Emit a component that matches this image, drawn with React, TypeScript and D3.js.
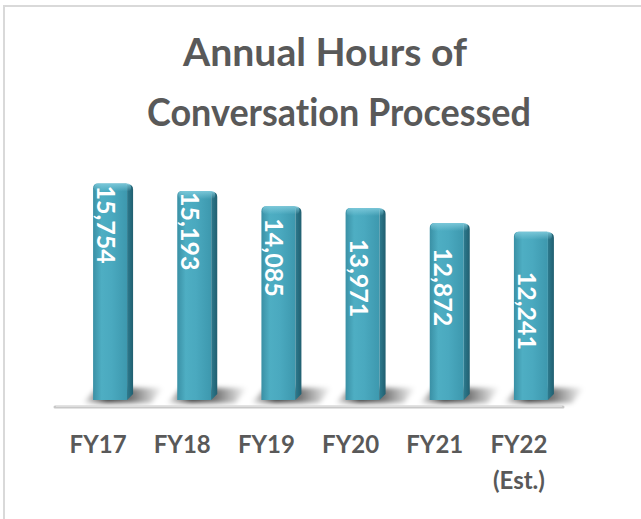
import React from "react";
import * as d3 from "d3";

const categories: string[][] = [["FY17"], ["FY18"], ["FY19"], ["FY20"], ["FY21"], ["FY22", "(Est.)"]];
const hours: number[] = [15754, 15193, 14085, 13971, 12872, 12241];
const titleLines: string[] = ["Annual Hours of", "Conversation Processed"];

const W = 641;
const H = 519;
const FONT = "Lato, 'Open Sans', sans-serif";
const GREY = "#595959";
// label drop below bar top (as drawn by the original chart engine)
const LABEL_DROP = [2, 1, 12, 31, 25, 40];

export default function App() {
  const x = d3.scaleBand<number>().domain(d3.range(categories.length)).range([56, 561]).padding(0);
  const y = d3.scaleLinear().domain([0, 16000]).range([400, 180]);
  const fmt = d3.format(",");
  const frontW = 34;
  const sideW = 6;
  const r = 5;
  const noLig = { fontVariantLigatures: "none" as const, fontFeatureSettings: "'liga' 0, 'clig' 0" };

  return (
    <div style={{ position: "absolute", left: 0, top: 0 }}>
      <svg width={W} height={H} style={{ display: "block", background: "#fff" }}>
        <defs>
          <linearGradient id="front" x1="0" x2="1" y1="0" y2="0">
            <stop offset="0" stopColor="#3a90a5" />
            <stop offset="0.25" stopColor="#4eaec3" />
            <stop offset="0.55" stopColor="#4aa9bf" />
            <stop offset="1" stopColor="#3d98ae" />
          </linearGradient>
          <linearGradient id="side" x1="0" x2="1" y1="0" y2="0">
            <stop offset="0" stopColor="#2f7f93" />
            <stop offset="1" stopColor="#215f70" />
          </linearGradient>
          <linearGradient id="topHi" x1="0" x2="0" y1="0" y2="1">
            <stop offset="0" stopColor="#7fcadb" stopOpacity="0.9" />
            <stop offset="1" stopColor="#7fcadb" stopOpacity="0" />
          </linearGradient>
          <linearGradient id="shadowGrad" x1="0" x2="1" y1="0" y2="0">
            <stop offset="0" stopColor="#000" stopOpacity="0.05" />
            <stop offset="0.3" stopColor="#000" stopOpacity="0.75" />
            <stop offset="0.6" stopColor="#000" stopOpacity="0.55" />
            <stop offset="1" stopColor="#000" stopOpacity="0" />
          </linearGradient>
          <filter id="blur" x="-30%" y="-100%" width="160%" height="300%">
            <feGaussianBlur stdDeviation="2.5" />
          </filter>
        </defs>

        {/* frame */}
        <path d={`M4,${H} L4,6 L${W},6`} fill="none" stroke="#d9d9d9" strokeWidth={2} />

        {/* title */}
        <text x={183} y={66} textLength={284} lengthAdjust="spacingAndGlyphs" fontFamily={FONT} fontWeight={700} fontSize={39} fill={GREY} style={noLig}>
          {titleLines[0]}
        </text>
        <text x={147} y={126} textLength={384} lengthAdjust="spacingAndGlyphs" fontFamily={FONT} fontWeight={700} fontSize={39} fill={GREY} style={noLig}>
          {titleLines[1]}
        </text>

        {/* floor shadows */}
        {hours.map((v, i) => {
          const cx = (x(i) as number) + x.bandwidth() / 2;
          const bl = cx - 5;
          return (
            <polygon
              key={"sh" + i}
              points={`${bl - 10},403 ${bl + 4},388 ${bl + 70},388 ${bl + 58},403`}
              fill="url(#shadowGrad)"
              filter="url(#blur)"
            />
          );
        })}

        {/* floor line */}
        <line x1={55} x2={563} y1={407} y2={407} stroke="#c8c8c8" strokeWidth={3} strokeLinecap="round" />
        <line x1={56} x2={562} y1={406.2} y2={406.2} stroke="#e6e6e6" strokeWidth={1} />

        {/* bars */}
        {hours.map((v, i) => {
          const cx = (x(i) as number) + x.bandwidth() / 2;
          const bl = cx - 5;
          const top = y(v);
          const bottom = y(0);
          const fr = bl + frontW;
          const front = `M${bl},${bottom} L${bl},${top + r} Q${bl},${top} ${bl + r},${top} L${fr - 1},${top} L${fr},${top + 2} L${fr},${bottom} Z`;
          const side = `M${fr},${top + 2} L${fr - 1},${top} L${fr + sideW - r},${top + 1} Q${fr + sideW},${top + 1} ${fr + sideW},${top + r + 1} L${fr + sideW},${bottom - 6} L${fr},${bottom} Z`;
          return (
            <g key={"b" + i}>
              <path d={front} fill="url(#front)" />
              <path d={side} fill="url(#side)" />
              <rect x={bl + 1} y={top} width={frontW + sideW - 3} height={8} rx={4} fill="url(#topHi)" />
              <text
                transform={`translate(${bl + 4},${top + LABEL_DROP[i]}) rotate(90)`}
                fontFamily={FONT}
                fontWeight={700}
                fontSize={25}
                fill="#fff"
              >
                {fmt(v)}
              </text>
            </g>
          );
        })}

        {/* category labels */}
        {categories.map((lines, i) => {
          const cx = (x(i) as number) + x.bandwidth() / 2;
          return (
            <text key={"c" + i} textAnchor="middle" fontFamily={FONT} fontWeight={700} fontSize={24} fill={GREY}>
              {lines.map((l, j) => (
                <tspan key={j} x={cx} y={453 + j * 36}>
                  {l}
                </tspan>
              ))}
            </text>
          );
        })}
      </svg>
    </div>
  );
}
